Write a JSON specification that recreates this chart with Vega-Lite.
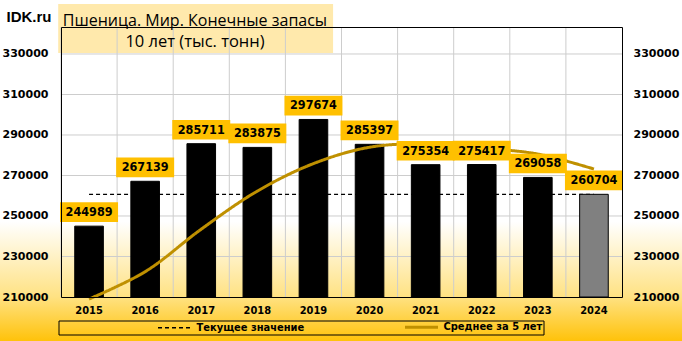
{
  "$schema": "https://vega.github.io/schema/vega-lite/v6.json",
  "width": 682,
  "height": 341,
  "autosize": "none",
  "padding": 0,
  "background": "#ffffff",
  "view": {"stroke": "#000000", "strokeWidth": 2},
  "title": {
    "text": "Пшеница. Мир. Конечные запасы",
    "subtitle": "10 лет (тыс. тонн)",
    "anchor": "middle",
    "frame": "group",
    "dx": -146,
    "offset": -50,
    "font": "Open Sans",
    "fontSize": 16,
    "fontWeight": "normal",
    "color": "#000000",
    "subtitleFont": "Open Sans",
    "subtitleFontSize": 16.5,
    "subtitleColor": "#000000",
    "subtitlePadding": 5
  },
  "datasets": {
    "bars": [
      {"year": "2015", "value": 244989},
      {"year": "2016", "value": 267139},
      {"year": "2017", "value": 285711},
      {"year": "2018", "value": 283875},
      {"year": "2019", "value": 297674},
      {"year": "2020", "value": 285397},
      {"year": "2021", "value": 275354},
      {"year": "2022", "value": 275417},
      {"year": "2023", "value": 269058},
      {"year": "2024", "value": 260704}
    ],
    "ticks": [
      {"v": 230000}, {"v": 250000}, {"v": 270000}, {"v": 290000}, {"v": 310000}, {"v": 330000}
    ],
    "lines": [
      {"year": "2015", "series": "Текущее значение", "value": 260704},
      {"year": "2016", "series": "Текущее значение", "value": 260704},
      {"year": "2017", "series": "Текущее значение", "value": 260704},
      {"year": "2018", "series": "Текущее значение", "value": 260704},
      {"year": "2019", "series": "Текущее значение", "value": 260704},
      {"year": "2020", "series": "Текущее значение", "value": 260704},
      {"year": "2021", "series": "Текущее значение", "value": 260704},
      {"year": "2022", "series": "Текущее значение", "value": 260704},
      {"year": "2023", "series": "Текущее значение", "value": 260704},
      {"year": "2024", "series": "Текущее значение", "value": 260704},
      {"year": "2015", "series": "Среднее за 5 лет", "value": 209000},
      {"year": "2016", "series": "Среднее за 5 лет", "value": 222500},
      {"year": "2017", "series": "Среднее за 5 лет", "value": 243500},
      {"year": "2018", "series": "Среднее за 5 лет", "value": 262300},
      {"year": "2019", "series": "Среднее за 5 лет", "value": 275878},
      {"year": "2020", "series": "Среднее за 5 лет", "value": 283959},
      {"year": "2021", "series": "Среднее за 5 лет", "value": 285602},
      {"year": "2022", "series": "Среднее за 5 лет", "value": 283543},
      {"year": "2023", "series": "Среднее за 5 лет", "value": 280580},
      {"year": "2024", "series": "Среднее за 5 лет", "value": 273186}
    ]
  },
  "layer": [
    {
      "data": {"values": [{"bg": 1}]},
      "mark": {"type": "rect", "strokeWidth": 0,
        "fill": {"gradient": "linear", "x1": 0, "y1": 0, "x2": 0, "y2": 1,
          "stops": [
            {"offset": 0, "color": "#ffffff"},
            {"offset": 0.65, "color": "#ffffff"},
            {"offset": 0.87, "color": "#FFE283"},
            {"offset": 1, "color": "#FFC20A"}
          ]}},
      "encoding": {}
    },
    {
      "data": {"values": [{"box": "title"}]},
      "mark": {"type": "rect", "fill": "#FFE9AC", "strokeWidth": 0},
      "encoding": {
        "x": {"datum": "2015", "type": "ordinal", "bandPosition": -0.05,
          "scale": {"range": [61, 622], "paddingInner": 0, "paddingOuter": 0},
          "axis": null},
        "x2": {"datum": "2019", "bandPosition": 0.85},
        "y": {"datum": 354700, "type": "quantitative",
          "scale": {"domain": [210000, 343333], "range": [297, 27], "nice": false, "zero": false},
          "axis": null},
        "y2": {"datum": 330500}
      }
    },
    {
      "data": {"name": "ticks"},
      "mark": {"type": "rule", "color": "#CDCDCD", "strokeWidth": 1},
      "encoding": {
        "x": {"datum": "2015", "type": "ordinal", "bandPosition": 0, "axis": null},
        "x2": {"datum": "2024", "bandPosition": 1},
        "y": {"field": "v", "type": "quantitative", "axis": null}
      }
    },
    {
      "data": {"name": "bars"},
      "mark": {"type": "rule", "color": "#CDCDCD", "strokeWidth": 1},
      "encoding": {
        "x": {"field": "year", "type": "ordinal", "bandPosition": 0,
          "axis": {"orient": "top", "offset": -27, "zindex": 1, "grid": false, "labels": false, "ticks": false, "domain": true, "domainColor": "#000000", "domainWidth": 1, "title": null}},
        "y": {"datum": 210000, "type": "quantitative", "axis": null},
        "y2": {"datum": 343333}
      }
    },
    {
      "data": {"name": "lines"},
      "transform": [{"filter": "datum.series == 'Текущее значение'"}],
      "mark": {"type": "line", "interpolate": "linear", "strokeWidth": 1.25},
      "encoding": {
        "x": {"field": "year", "type": "ordinal", "axis": null},
        "y": {"field": "value", "type": "quantitative", "axis": null},
        "color": {"field": "series", "type": "nominal",
          "scale": {"domain": ["Текущее значение", "Среднее за 5 лет"], "range": ["#000000", "#BF9000"]},
          "legend": {"title": null, "orient": "none", "legendX": 58.5, "legendY": 320.5, "direction": "horizontal", "strokeColor": "#000000", "padding": 1, "symbolType": "M-4,0H4", "symbolSize": 68, "symbolOffset": 109.5, "labelOffset": 16.5, "columnPadding": 2, "labelLimit": 500, "labelFont": "DejaVu Sans Condensed", "labelFontWeight": "bold", "labelFontSize": 11, "labelColor": "#000000", "symbolFillColor": "transparent",
            "labelExpr": "datum.label == 'Среднее за 5 лет' ? datum.label + '                           ' : datum.label",
            "encode": {"symbols": {"update": {"strokeWidth": {"signal": "datum.value == 'Среднее за 5 лет' ? 3 : 1.5"}}}}}},
        "strokeDash": {"field": "series", "type": "nominal",
          "scale": {"domain": ["Текущее значение", "Среднее за 5 лет"], "range": [[4, 3], [1, 0]]},
          "legend": {"title": null, "orient": "none", "legendX": 58.5, "legendY": 320.5, "direction": "horizontal", "strokeColor": "#000000", "padding": 1, "symbolType": "M-4,0H4", "symbolSize": 68, "symbolOffset": 109.5, "labelOffset": 16.5, "columnPadding": 2, "labelLimit": 500, "labelFont": "DejaVu Sans Condensed", "labelFontWeight": "bold", "labelFontSize": 11, "labelColor": "#000000", "symbolFillColor": "transparent",
            "labelExpr": "datum.label == 'Среднее за 5 лет' ? datum.label + '                           ' : datum.label",
            "encode": {"symbols": {"update": {"strokeWidth": {"signal": "datum.value == 'Среднее за 5 лет' ? 3 : 1.5"}}}}}}
      }
    },
    {
      "data": {"name": "bars"},
      "mark": {"type": "bar", "width": {"band": 0.51}, "stroke": "#000000", "strokeWidth": 1},
      "encoding": {
        "x": {"field": "year", "type": "ordinal",
          "axis": {"orient": "bottom", "offset": -44, "zindex": 1, "grid": false, "ticks": false, "domain": true, "domainColor": "#000000", "domainWidth": 1, "labelAngle": 0, "labelPadding": 7, "labelFont": "DejaVu Sans Condensed", "labelFontWeight": "bold", "labelFontSize": 11, "labelColor": "#000000", "title": null}},
        "y": {"field": "value", "type": "quantitative", "stack": null,
          "axis": {"orient": "left", "offset": -61, "zindex": 1, "values": [210000, 230000, 250000, 270000, 290000, 310000, 330000], "format": "d", "grid": false, "ticks": false, "domain": true, "domainColor": "#000000", "domainWidth": 1, "labelPadding": 13, "labelFont": "DejaVu Sans", "labelFontWeight": "bold", "labelFontSize": 11, "labelColor": "#000000",
            "title": "IDK.ru", "titleAngle": 0, "titleX": -55, "titleY": 21, "titleAlign": "left", "titleBaseline": "alphabetic", "titleFont": "Liberation Sans", "titleFontWeight": "bold", "titleFontSize": 15, "titleColor": "#000000"}},
        "y2": {"datum": 210000},
        "fill": {"condition": {"test": "datum.year == '2024'", "value": "#808080"}, "value": "#000000"}
      }
    },
    {
      "data": {"name": "lines"},
      "transform": [{"filter": "datum.series == 'Среднее за 5 лет'"}],
      "mark": {"type": "line", "interpolate": "catmull-rom", "strokeWidth": 3},
      "encoding": {
        "x": {"field": "year", "type": "ordinal", "axis": null},
        "y": {"field": "value", "type": "quantitative", "axis": null},
        "color": {"field": "series", "type": "nominal",
          "legend": {"title": null, "orient": "none", "legendX": 58.5, "legendY": 320.5, "direction": "horizontal", "strokeColor": "#000000", "padding": 1, "symbolType": "M-4,0H4", "symbolSize": 68, "symbolOffset": 109.5, "labelOffset": 16.5, "columnPadding": 2, "labelLimit": 500, "labelFont": "DejaVu Sans Condensed", "labelFontWeight": "bold", "labelFontSize": 11, "labelColor": "#000000", "symbolFillColor": "transparent",
            "labelExpr": "datum.label == 'Среднее за 5 лет' ? datum.label + '                           ' : datum.label",
            "encode": {"symbols": {"update": {"strokeWidth": {"signal": "datum.value == 'Среднее за 5 лет' ? 3 : 1.5"}}}}}},
        "strokeDash": {"field": "series", "type": "nominal",
          "legend": {"title": null, "orient": "none", "legendX": 58.5, "legendY": 320.5, "direction": "horizontal", "strokeColor": "#000000", "padding": 1, "symbolType": "M-4,0H4", "symbolSize": 68, "symbolOffset": 109.5, "labelOffset": 16.5, "columnPadding": 2, "labelLimit": 500, "labelFont": "DejaVu Sans Condensed", "labelFontWeight": "bold", "labelFontSize": 11, "labelColor": "#000000", "symbolFillColor": "transparent",
            "labelExpr": "datum.label == 'Среднее за 5 лет' ? datum.label + '                           ' : datum.label",
            "encode": {"symbols": {"update": {"strokeWidth": {"signal": "datum.value == 'Среднее за 5 лет' ? 3 : 1.5"}}}}}}
      }
    },
    {
      "data": {"name": "bars"},
      "mark": {"type": "point", "filled": true, "shape": "M-1,-0.82H1V-0.14H-1Z", "size": 3364, "color": "#FFC000", "opacity": 1, "strokeWidth": 0},
      "encoding": {
        "x": {"field": "year", "type": "ordinal", "axis": null},
        "y": {"field": "value", "type": "quantitative",
          "axis": {"orient": "right", "offset": -60, "zindex": 1, "values": [210000, 230000, 250000, 270000, 290000, 310000, 330000], "format": "d", "grid": false, "ticks": false, "domain": true, "domainColor": "#000000", "domainWidth": 1, "labelPadding": 11, "labelFont": "DejaVu Sans", "labelFontWeight": "bold", "labelFontSize": 11, "labelColor": "#000000", "title": null}}
      }
    },
    {
      "data": {"name": "bars"},
      "mark": {"type": "text", "dy": -14, "baseline": "middle", "align": "center", "font": "DejaVu Sans Condensed", "fontWeight": "bold", "fontSize": 12.5, "color": "#000000"},
      "encoding": {
        "x": {"field": "year", "type": "ordinal", "axis": null},
        "y": {"field": "value", "type": "quantitative", "axis": null},
        "text": {"field": "value", "type": "quantitative", "format": "d"}
      }
    }
  ],
  "resolve": {"axis": {"x": "independent", "y": "independent"}}
}
